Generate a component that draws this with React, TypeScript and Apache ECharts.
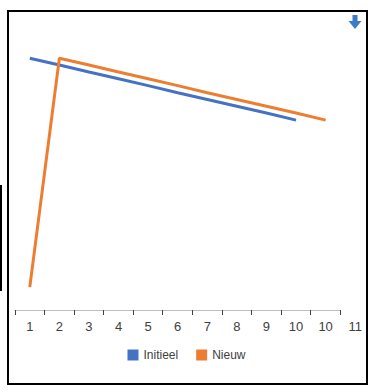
import React, { useEffect, useRef } from "react";
import * as echarts from "echarts";

const tickLabels = ["1", "2", "3", "4", "5", "6", "7", "8", "9", "10", "10", "11"];
const axisBands = ["1", "2", "3", "4", "5", "6", "7", "8", "9", "10", "10"];
const initieel = [100, 97.3, 94.5, 91.8, 89.1, 86.3, 83.6, 80.9, 78.2, 75.4];
const nieuw = [9.1, 100, 97.3, 94.5, 91.8, 89.1, 86.3, 83.6, 80.9, 78.2, 75.4];
const seriesNames = ["Initieel", "Nieuw"];
const colors = ["#4472C4", "#ED7D31"];

export default function App() {
  const ref = useRef<HTMLDivElement>(null);
  useEffect(() => {
    const chart = echarts.init(ref.current!, null, { renderer: "svg" });
    chart.setOption({
      animation: false,
      color: colors,
      textStyle: { fontFamily: "Liberation Sans, Arial, sans-serif" },
      grid: [
        { left: 15, right: 3, top: 33, bottom: 82 },
        { left: 15, right: 33, top: 33, bottom: 82 },
      ],
      legend: {
        data: seriesNames,
        top: 344,
        left: "center",
        icon: "rect",
        itemWidth: 11,
        itemHeight: 11,
        itemGap: 18,
        textStyle: { fontSize: 12, color: "#404040" },
      },
      xAxis: [
        {
          type: "category",
          gridIndex: 0,
          data: tickLabels,
          boundaryGap: true,
          axisLine: { show: false },
          axisTick: { show: false },
          axisLabel: { interval: 0, fontSize: 13, color: "#404040", margin: 10 },
        },
        {
          type: "category",
          gridIndex: 1,
          data: axisBands,
          boundaryGap: true,
          axisLine: { show: true, lineStyle: { color: "#bfbfbf", width: 1 } },
          axisTick: { show: true, inside: false, length: 5, lineStyle: { color: "#404040" } },
          axisLabel: { show: false },
        },
      ],
      yAxis: [
        { type: "value", gridIndex: 0, min: 0, max: 110, show: false },
        { type: "value", gridIndex: 1, min: 0, max: 110, show: false },
      ],
      series: [
        {
          name: seriesNames[0],
          type: "line",
          xAxisIndex: 0,
          yAxisIndex: 0,
          data: initieel,
          showSymbol: false,
          lineStyle: { width: 3 },
        },
        {
          name: seriesNames[1],
          type: "line",
          xAxisIndex: 0,
          yAxisIndex: 0,
          data: nieuw,
          showSymbol: false,
          lineStyle: { width: 3 },
        },
      ],
      graphic: [
        {
          type: "rect",
          shape: { x: 8, y: 11, width: 359, height: 373 },
          style: { fill: "none", stroke: "#000", lineWidth: 2 },
          silent: true,
        },
        {
          type: "line",
          shape: { x1: 1, y1: 185, x2: 1, y2: 291 },
          style: { stroke: "#000", lineWidth: 2 },
          silent: true,
        },
        {
          type: "polygon",
          shape: {
            points: [
              [352.5, 15],
              [357.5, 15],
              [357.5, 21],
              [361.5, 21],
              [355, 29],
              [348.5, 21],
              [352.5, 21],
            ],
          },
          style: { fill: "#3A7BC8" },
        },
      ],
    });
    return () => chart.dispose();
  }, []);
  return (
    <div
      ref={ref}
      style={{ position: "fixed", left: 0, top: 0, width: 373, height: 392, background: "#fff" }}
    />
  );
}
